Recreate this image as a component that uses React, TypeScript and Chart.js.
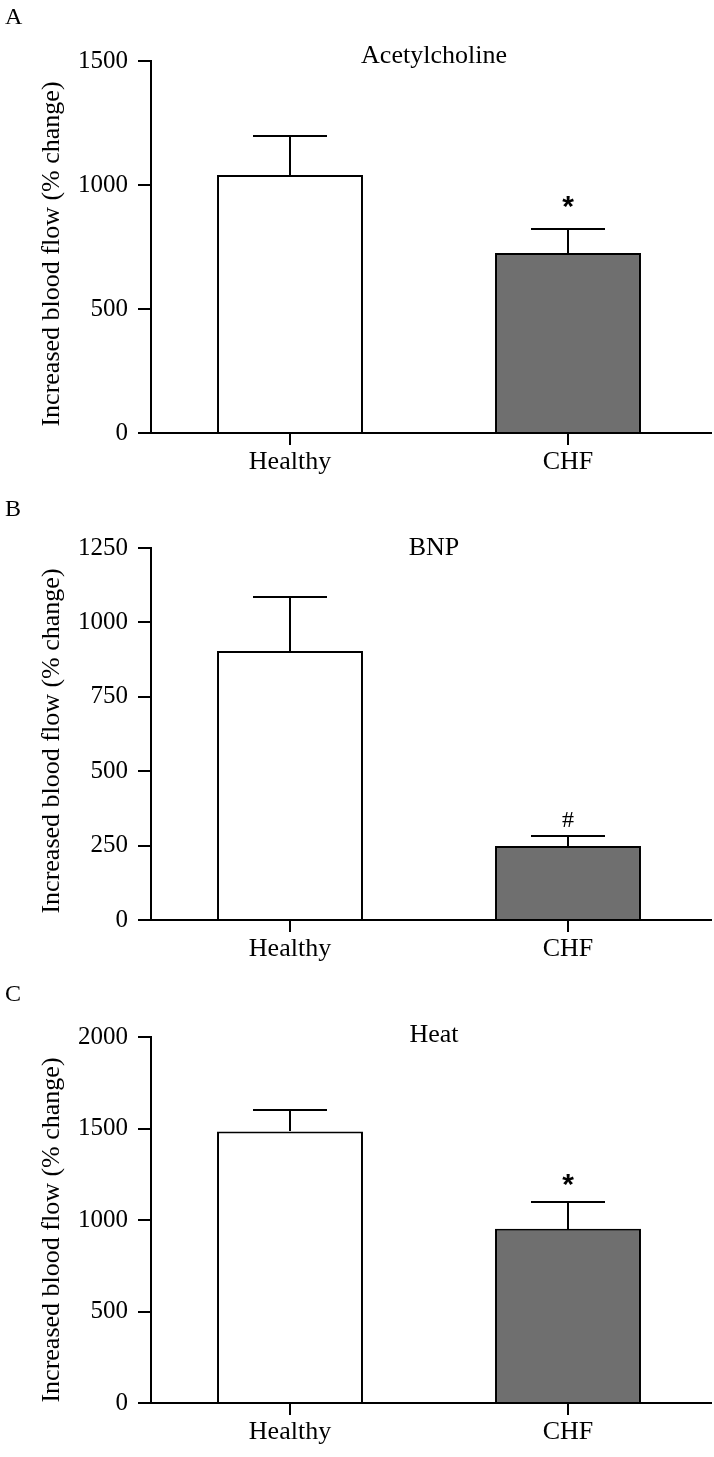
import React, { useEffect, useRef } from "react";
import { Chart, registerables } from "chart.js";

Chart.register(...registerables);

// ---------- data ----------
const categories = ["Healthy", "CHF"];

const achMean = [1040, 726];
const achSem = [157, 97];
const achTicks = [0, 500, 1000, 1500];

const bnpMean = [904, 249];
const bnpSem = [181, 33];
const bnpTicks = [0, 250, 500, 750, 1000, 1250];

const heatMean = [1484, 952];
const heatSem = [118, 145];
const heatTicks = [0, 500, 1000, 1500, 2000];

const panelLetters = ["A", "B", "C"];
const panelTitles = ["Acetylcholine", "BNP", "Heat"];
const significanceMarks = [
  ["", "*"],
  ["", "#"],
  ["", "*"],
];
const yAxisLabel = "Increased blood flow (% change)";

// ---------- styling / layout ----------
const SERIF = '"Liberation Serif", "Times New Roman", Times, serif';
const SANS = '"Liberation Sans", Arial, sans-serif';
const barFills = ["#ffffff", "#6f6f6f"];

const panels = [
  { mean: achMean, sem: achSem, ticks: achTicks, top: 0, height: 487, letterY: 16, titleY: 54, markGap: 27, markFont: `bold 30px ${SANS}` },
  { mean: bnpMean, sem: bnpSem, ticks: bnpTicks, top: 487, height: 487, letterY: 21, titleY: 59, markGap: 17, markFont: `24px ${SERIF}` },
  { mean: heatMean, sem: heatSem, ticks: heatTicks, top: 976, height: 481, letterY: 17, titleY: 57, markGap: 22, markFont: `bold 30px ${SANS}` },
];

function drawGlyphCentered(ctx: CanvasRenderingContext2D, text: string, x: number, cy: number, font: string) {
  ctx.font = font;
  ctx.textAlign = "center";
  ctx.textBaseline = "alphabetic";
  const m = ctx.measureText(text);
  const base = cy + (m.actualBoundingBoxAscent - m.actualBoundingBoxDescent) / 2;
  ctx.fillText(text, x, base);
}

function drawCapCentered(ctx: CanvasRenderingContext2D, text: string, x: number, cy: number, font: string) {
  ctx.font = font;
  ctx.textAlign = "center";
  ctx.textBaseline = "alphabetic";
  const cap = ctx.measureText("H").actualBoundingBoxAscent;
  ctx.fillText(text, x, cy + cap / 2);
}

function Panel({ index }: { index: number }) {
  const ref = useRef<HTMLCanvasElement | null>(null);
  const p = panels[index];

  useEffect(() => {
    const canvas = ref.current;
    if (!canvas) return;
    const decor = {
      id: "decor" + index,
      afterDatasetsDraw(chart: any) {
        const ctx: CanvasRenderingContext2D = chart.ctx;
        const ys = chart.scales.y;
        const area = chart.chartArea;
        const meta = chart.getDatasetMeta(0);
        ctx.save();
        ctx.strokeStyle = "#000";
        ctx.fillStyle = "#000";
        ctx.lineWidth = 2;
        meta.data.forEach((bar: any, i: number) => {
          const x = Math.round(bar.x);
          const yTop = Math.round(bar.y);
          const yErr = Math.round(ys.getPixelForValue(p.mean[i] + p.sem[i]));
          ctx.beginPath();
          ctx.moveTo(x, yTop);
          ctx.lineTo(x, yErr);
          ctx.moveTo(x - 37, yErr);
          ctx.lineTo(x + 37, yErr);
          ctx.stroke();
          const mark = significanceMarks[index][i];
          if (mark) drawGlyphCentered(ctx, mark, x, yErr - p.markGap, p.markFont);
        });
        // extended baseline
        const y0 = Math.round(ys.getPixelForValue(0));
        ctx.beginPath();
        ctx.moveTo(area.left - 12, y0);
        ctx.lineTo(712, y0);
        ctx.stroke();
        // panel letter
        ctx.textAlign = "left";
        ctx.font = `24px ${SERIF}`;
        const cap = ctx.measureText("H").actualBoundingBoxAscent;
        ctx.textBaseline = "alphabetic";
        ctx.fillText(panelLetters[index], 5, p.letterY + cap / 2);
        // title
        drawCapCentered(ctx, panelTitles[index], 434, p.titleY, `26px ${SERIF}`);
        // y label
        ctx.save();
        ctx.translate(59, 254);
        ctx.rotate(-Math.PI / 2);
        ctx.font = `26px ${SERIF}`;
        ctx.textAlign = "center";
        ctx.textBaseline = "alphabetic";
        ctx.fillText(yAxisLabel, 0, 0);
        ctx.restore();
        ctx.restore();
      },
    };

    const chart = new Chart(canvas, {
      type: "bar",
      data: {
        labels: categories,
        datasets: [
          {
            data: p.mean,
            backgroundColor: barFills,
            borderColor: "#000",
            borderWidth: 2,
            borderSkipped: "start",
            barPercentage: 0.525,
            categoryPercentage: 1,
          },
        ],
      },
      options: {
        responsive: false,
        animation: false,
        events: [],
        layout: { padding: { top: 61, right: 7, left: 0, bottom: 0 } },
        plugins: {
          legend: { display: false },
          tooltip: { enabled: false },
          title: { display: false },
        },
        scales: {
          x: {
            type: "category",
            offset: true,
            grid: { offset: false, drawOnChartArea: false, drawTicks: true, tickLength: 12, color: "#000", lineWidth: 2 },
            border: { display: false },
            ticks: { color: "#000", font: { family: SERIF, size: 26 }, padding: 2, maxRotation: 0, autoSkip: false },
            afterFit: (s: any) => {
              s.height = 54;
            },
          },
          y: {
            min: p.ticks[0],
            max: p.ticks[p.ticks.length - 1],
            afterBuildTicks: (s: any) => {
              s.ticks = p.ticks.map((v) => ({ value: v }));
            },
            grid: { drawOnChartArea: false, drawTicks: true, tickLength: 13, color: "#000", lineWidth: 2 },
            border: { display: true, color: "#000", width: 2 },
            ticks: {
              color: "#000",
              font: { family: SERIF, size: 25 },
              padding: 10,
              callback: (v: any) => String(v),
            },
            afterFit: (s: any) => {
              s.width = 151;
            },
          },
        },
      },
      plugins: [decor],
    } as any);
    return () => chart.destroy();
  }, [index]);

  return (
    <canvas
      ref={ref}
      width={714}
      height={p.height}
      style={{ position: "absolute", left: 0, top: p.top, width: 714, height: p.height, display: "block" }}
    />
  );
}

export default function App() {
  return (
    <div style={{ position: "absolute", left: 0, top: 0, width: 714, height: 1457, background: "#fff" }}>
      {panels.map((_, i) => (
        <Panel key={i} index={i} />
      ))}
    </div>
  );
}
